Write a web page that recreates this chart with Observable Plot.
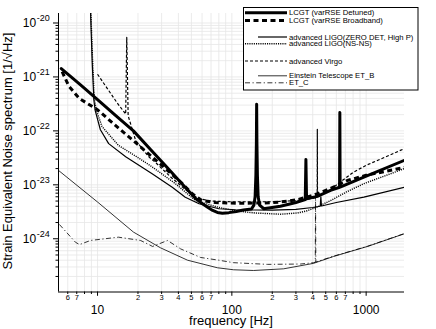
<!DOCTYPE html>
<html><head><meta charset="utf-8">
<script src="https://cdn.jsdelivr.net/npm/d3@7"></script>
<script src="https://cdn.jsdelivr.net/npm/@observablehq/plot@0.6"></script>
<style>
html,body{margin:0;padding:0;background:#fff;}
#chart{width:436px;height:329px;}
</style></head><body><div id="chart"></div>
<script>
// ---------- data: [frequency Hz, strain noise 1/sqrt(Hz)] ----------
const lcgtDetuned = [[5.37,1.43e-21],[7.47,7.1e-22],[10,3.8e-22],[13.6,1.93e-22],[18.5,1.0e-22],[24.8,4.5e-23],[32.1,2.25e-23],[41.5,1.12e-23],[53.7,5.6e-24],[60,4.5e-24],[66,3.85e-24],[72,3.35e-24],[78,3.08e-24],[85,2.98e-24],[95,3.05e-24],[108,3.2e-24],[122,3.4e-24],[140,3.55e-24],[146,4.2e-24],[149,6e-24],[151,1.5e-23],[152.3,6e-23],[153,3.1e-22],[153.7,6e-23],[155,1.5e-23],[157,6e-24],[161,4.2e-24],[173,3.6e-24],[230,4.0e-24],[300,4.7e-24],[352,5.3e-24],[356,2.94e-23],[360,5.5e-24],[433,6.1e-24],[543,7.9e-24],[634,9e-24],[637,2.18e-22],[640,9.1e-24],[961,1.39e-23],[1930,2.85e-23]];
const lcgtBroadband = [[5.45,1.25e-21],[6.1,6.8e-22],[7.3,4.0e-22],[10,2.46e-22],[14.8,1.05e-22],[21,5.0e-23],[31,2.15e-23],[42,1.1e-23],[50.7,6.8e-24],[60,5.1e-24],[75,4.7e-24],[107,4.55e-24],[173,4.6e-24],[230,4.8e-24],[307,5.3e-24],[406,6.4e-24],[540,8.5e-24],[723,1.2e-23],[1000,1.5e-23],[1930,2.1e-23]];
const aligoZeroDet = [[8.8,4e-20],[8.9,1.2e-20],[9.13,1.8e-21],[9.39,3.7e-22],[9.6,2.4e-22],[10.5,1.05e-22],[12.1,5.8e-23],[16.2,3.3e-23],[25.5,1.6e-23],[36,9e-24],[45,5.9e-24],[57,4.45e-24],[80,3.6e-24],[107,3.45e-24],[200,3.4e-24],[300,3.5e-24],[400,3.8e-24],[455,4.0e-24],[460,6e-24],[465,4.05e-24],[600,4.7e-24],[961,5.9e-24],[1930,9e-24]];
const aligoNsNs = [[8.8,4e-20],[8.95,1.2e-20],[9.2,1.8e-21],[9.45,4e-22],[9.8,2.4e-22],[10.8,1.2e-22],[14.3,5.4e-23],[20,3.2e-23],[25.5,2.15e-23],[38,1.05e-23],[53.7,5.1e-24],[80,3.8e-24],[107,3.3e-24],[150,3.0e-24],[230,2.85e-24],[307,3.0e-24],[364,3.3e-24],[433,3.9e-24],[543,5.1e-24],[723,7.5e-24],[961,1.05e-23],[1930,2e-23]];
const advVirgo = [[10,1.12e-21],[12.1,5.6e-22],[14,3.3e-22],[16.2,2.05e-22],[16.5,5.4e-21],[16.9,1.9e-22],[19.2,6.7e-23],[24.1,3.3e-23],[27,2.6e-23],[35,1.4e-23],[45,8.2e-24],[56,5.6e-24],[70,5.0e-24],[100,4.85e-24],[200,4.85e-24],[300,5.1e-24],[400,5.6e-24],[432,5.9e-24],[433,1.07e-22],[434,6.0e-24],[460,6.5e-24],[530,7.8e-24],[650,1.15e-23],[800,1.7e-23],[1000,2.3e-23],[1400,3.3e-23],[1930,4.7e-23]];
const etB = [[5.12,1.85e-23],[10,4.8e-24],[18.5,1.33e-24],[29.4,6.8e-25],[46.8,4.0e-25],[78,2.9e-25],[103,2.66e-25],[145,2.58e-25],[243,2.77e-25],[406,3.5e-25],[572,4.7e-25],[1023,7.2e-25],[1930,1.24e-24]];
const etC = [[5.2,1.84e-24],[6.85,8.6e-25],[7.35,7.8e-25],[8.87,9.3e-25],[14.3,1.07e-24],[20.9,9.3e-25],[25.7,7.2e-25],[33.2,9.3e-25],[41.5,6.5e-25],[58.5,4.5e-25],[80,4.0e-25],[103,3.6e-25],[184,3.35e-25],[325,3.4e-25],[406,3.6e-25],[418,3.65e-25],[420,6.3e-24],[422,3.7e-25],[572,4.75e-25],[1023,7.25e-25],[1930,1.25e-24]];

const seriesNames = ["LCGT (varRSE Detuned)","LCGT (varRSE Broadband)","advanced LIGO(ZERO DET, High P)","advanced LIGO(NS-NS)","advanced Virgo","Einstein Telescope ET_B","ET_C"];

// ---------- axis ticks ----------
const xDomain = [5.12, 1930];
const yDomain = [1.03e-25, 1.5e-20];
const xMajor = [10, 100, 1000];
const xMinorLabeled = [6,7,20,30,40,50,60,70,200,300,400,500,600,700];
const xMinorPlain = [8,9,80,90,800,900];
const yMajor = [1e-24,1e-23,1e-22,1e-21,1e-20];
const yMinor = [];
for (let e = -25; e <= -21; e++) for (let k = 2; k <= 9; k++) { const v = k * Math.pow(10, e); if (v > yDomain[0] && v < yDomain[1]) yMinor.push(v); }
const xMinorAll = [...xMinorLabeled, ...xMinorPlain];
const xGrid = [...xMajor, ...xMinorAll];
const yGrid = [...yMajor, ...yMinor];

// ---------- styles ----------
const FONT = '"Liberation Sans", Arial, Helvetica, sans-serif';
const styles = [
  {data: lcgtDetuned, strokeWidth: 3, dash: null, cap: "round"},
  {data: lcgtBroadband, strokeWidth: 3, dash: "5,3.5", cap: "butt"},
  {data: aligoZeroDet, strokeWidth: 1.2, dash: null, cap: "round"},
  {data: aligoNsNs, strokeWidth: 1.4, dash: "1.1,1.1", cap: "butt"},
  {data: advVirgo, strokeWidth: 1.2, dash: "3,2", cap: "butt"},
  {data: etB, strokeWidth: 0.8, dash: null, cap: "round"},
  {data: etC, strokeWidth: 0.8, dash: "5,2.5,1.2,2.5", cap: "butt"}
];

const lineMarks = styles.map(s => Plot.line(s.data, {
  x: d => d[0], y: d => d[1], stroke: "black", strokeWidth: s.strokeWidth,
  strokeDasharray: s.dash, strokeLinecap: s.cap, strokeLinejoin: "round", clip: true
}));

const plot = Plot.plot({
  width: 436, height: 329,
  marginLeft: 58, marginRight: 32, marginTop: 13, marginBottom: 37.5,
  style: {fontFamily: FONT, background: "white", color: "black", overflow: "visible"},
  x: {type: "log", domain: xDomain},
  y: {type: "log", domain: yDomain},
  marks: [
    Plot.gridX(xGrid, {stroke: "#e6e6e6", strokeOpacity: 1, strokeWidth: 0.8}),
    Plot.gridY(yGrid, {stroke: "#e6e6e6", strokeOpacity: 1, strokeWidth: 0.8}),
    ...lineMarks,
    Plot.ruleX([xDomain[0]], {stroke: "black", strokeWidth: 1}),
    Plot.ruleY([yDomain[0]], {stroke: "black", strokeWidth: 1}),
    Plot.axisX(xMinorAll, {tickSize: 2.5, text: null, label: null}),
    Plot.text(xMinorLabeled, {x: d => d, frameAnchor: "bottom", lineAnchor: "top", dy: 2.6, fontSize: 7.5, text: d => String(d)[0], fill: "black"}),
    Plot.axisX(xMajor, {tickSize: 4.3, tickPadding: 8.8, fontSize: 12, tickFormat: d => String(d), label: null}),
    Plot.axisY(yMajor, {tickSize: 5, tickPadding: 3.7, fontSize: 12, tickFormat: d => "10^" + Math.round(Math.log10(d)), label: null}),
    Plot.axisY(yMinor, {tickSize: 2.5, text: null, label: null})
  ]
});

const svg = d3.select(plot);
// superscript exponents on y tick labels
svg.selectAll("text").each(function () {
  const m = /^10\^(-?\d+)$/.exec(this.textContent);
  if (m) {
    const t = d3.select(this);
    t.text(null);
    t.append("tspan").text("10");
    t.append("tspan").attr("dy", "-5.4").attr("dx", "0.6").attr("font-size", 9).text(m[1]);
  }
});

// axis titles
svg.append("text").attr("x", 231).attr("y", 325).attr("text-anchor", "middle")
  .attr("font-family", FONT).attr("font-size", 13).attr("fill", "black").text("frequency [Hz]");
svg.append("text").attr("transform", "translate(11.5,151) rotate(-90)").attr("text-anchor", "middle")
  .attr("font-family", FONT).attr("font-size", 13).attr("fill", "black").text("Strain Equivalent Noise spectrum [1/\u221AHz]");

// legend
const legendRows = [
  {i: 0, y: 12.8, x0: 245},
  {i: 1, y: 20.6, x0: 245},
  {i: 2, y: 37.0, x0: 258},
  {i: 3, y: 43.8, x0: 245},
  {i: 4, y: 61, x0: 245},
  {i: 5, y: 75.8, x0: 258},
  {i: 6, y: 82.8, x0: 245}
];
const lg = svg.append("g");
lg.append("rect").attr("x", 243.5).attr("y", 7.5).attr("width", 174.5).attr("height", 82.5)
  .attr("fill", "white").attr("stroke", "black").attr("stroke-width", 1);
for (const r of legendRows) {
  const s = styles[r.i];
  lg.append("line").attr("x1", r.x0).attr("x2", 287).attr("y1", r.y).attr("y2", r.y)
    .attr("stroke", "black").attr("stroke-width", s.strokeWidth)
    .attr("stroke-dasharray", s.dash).attr("stroke-linecap", "butt");
  lg.append("text").attr("x", 289).attr("y", r.y).attr("dy", "0.34em").attr("text-anchor", "start")
    .attr("font-family", FONT).attr("font-size", 7.7).attr("fill", "black").text(seriesNames[r.i]);
}

document.getElementById("chart").appendChild(plot);
</script></body></html>
